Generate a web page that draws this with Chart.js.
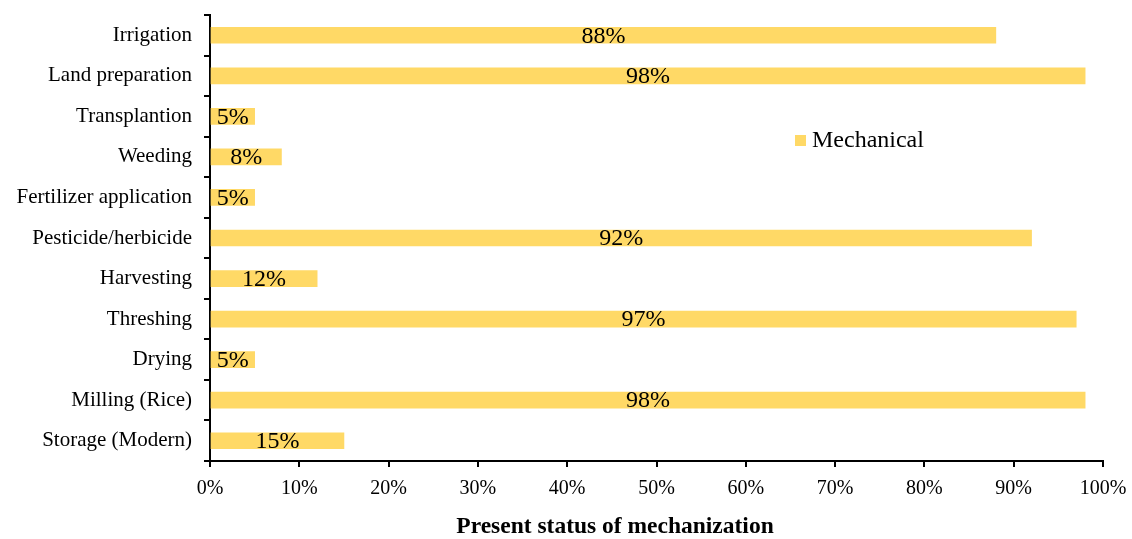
<!DOCTYPE html>
<html>
<head>
<meta charset="utf-8">
<script src="https://cdn.jsdelivr.net/npm/chart.js@4.4.1/dist/chart.umd.min.js"></script>
<style>
  html, body { margin: 0; padding: 0; background: #fff; }
  canvas { display: block; }
</style>
</head>
<body>
<canvas id="mechChart" width="1132" height="539"></canvas>
<script>
// Mechanization status per operation (%)
const operations = ["Irrigation", "Land preparation", "Transplantion", "Weeding", "Fertilizer application",
    "Pesticide/herbicide", "Harvesting", "Threshing", "Drying", "Milling (Rice)", "Storage (Modern)"];
const mechanical = [88, 98, 5, 8, 5, 92, 12, 97, 5, 98, 15];
const xTicks = [0, 10, 20, 30, 40, 50, 60, 70, 80, 90, 100];

const serif = "'Liberation Serif', 'Times New Roman', serif";
const barColor = "#FFD966";

// value labels in the middle of each bar
const barLabels = {
    id: "barLabels",
    afterDatasetsDraw(chart) {
        const ctx = chart.ctx;
        const meta = chart.getDatasetMeta(0);
        ctx.save();
        ctx.font = "24px " + serif;
        ctx.fillStyle = "#000";
        ctx.textAlign = "center";
        ctx.textBaseline = "middle";
        meta.data.forEach((bar, i) => {
            ctx.fillText(mechanical[i] + "%", (bar.x + bar.base) / 2, bar.y + 1);
        });
        ctx.restore();
    }
};

// legend swatch + axis caption
const extras = {
    id: "extras",
    afterDraw(chart) {
        const ctx = chart.ctx;
        const ds = chart.data.datasets[0];
        ctx.save();
        ctx.fillStyle = ds.backgroundColor;
        ctx.fillRect(795, 135, 11, 11);
        ctx.fillStyle = "#000";
        ctx.font = "24px " + serif;
        ctx.textBaseline = "middle";
        ctx.textAlign = "left";
        ctx.fillText(ds.label, 812, 141);
        ctx.font = "bold 23.5px " + serif;
        ctx.textAlign = "center";
        ctx.fillText("Present status of mechanization", 615, 527);
        ctx.restore();
    }
};

new Chart(document.getElementById("mechChart").getContext("2d"), {
    type: "bar",
    data: {
        labels: operations,
        datasets: [{
            label: "Mechanical",
            data: mechanical,
            backgroundColor: barColor,
            barThickness: 16
        }]
    },
    options: {
        indexAxis: "y",
        responsive: false,
        animation: false,
        layout: { padding: { left: 0, right: 29, top: 15, bottom: 0 } },
        plugins: {
            legend: { display: false },
            tooltip: { enabled: false }
        },
        scales: {
            x: {
                min: 0,
                max: 100,
                afterBuildTicks(scale) {
                    scale.ticks = xTicks.map(v => ({ value: v }));
                },
                afterFit(scale) {
                    scale.height = 78;
                    scale.paddingLeft = 0;
                    scale.paddingRight = 0;
                },
                border: { color: "#000", width: 2 },
                grid: { drawOnChartArea: false, color: "#000", tickLength: 6, lineWidth: 2 },
                ticks: {
                    color: "#000",
                    padding: 10,
                    maxRotation: 0,
                    font: { family: serif, size: 20 },
                    callback: v => v + "%"
                }
            },
            y: {
                afterFit(scale) {
                    scale.width = 210;
                    scale.paddingTop = 0;
                    scale.paddingBottom = 0;
                },
                border: { color: "#000", width: 2 },
                grid: { drawOnChartArea: false, offset: true, color: "#000", tickLength: 6, lineWidth: 2 },
                ticks: {
                    color: "#000",
                    padding: 12,
                    font: { family: serif, size: 21 }
                }
            }
        }
    },
    plugins: [barLabels, extras]
});
</script>
</body>
</html>
